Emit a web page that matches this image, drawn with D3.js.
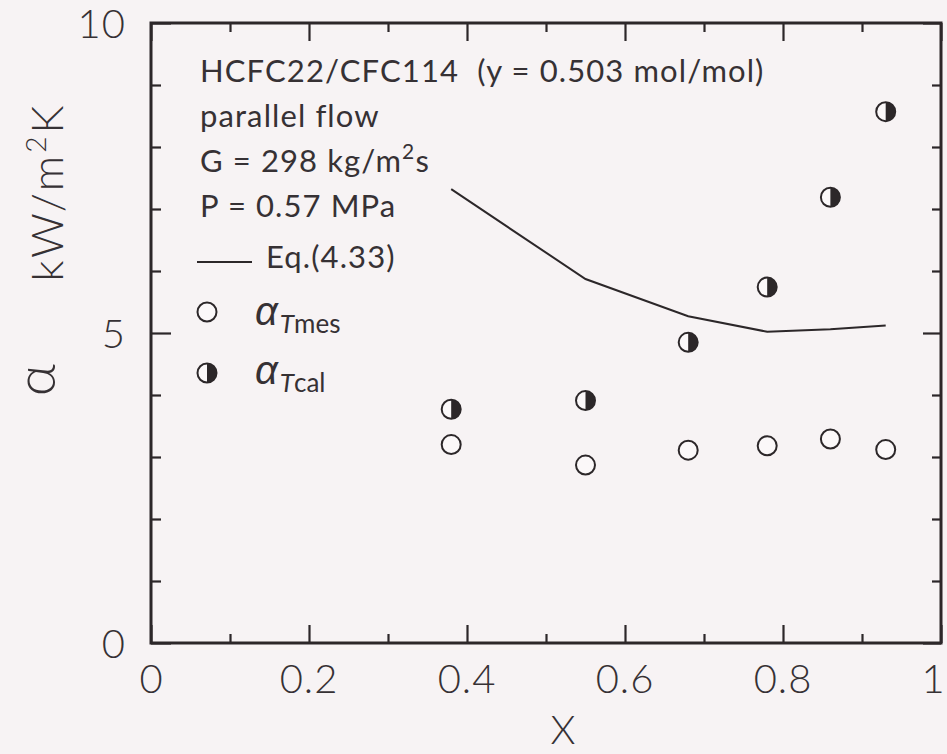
<!DOCTYPE html>
<html>
<head>
<meta charset="utf-8">
<script src="https://cdn.jsdelivr.net/npm/d3@7/dist/d3.min.js"></script>
<style>
  body { margin: 0; background: #f7f3f4; }
  svg { display: block; }
  text { fill: #363134; font-family: Lato, "Open Sans", sans-serif; white-space: pre; }
  .greek { font-family: "Liberation Sans", "DejaVu Sans", sans-serif; }
</style>
</head>
<body>
<div id="chart"></div>
<script>
// quality X of each measuring point
const xQuality = [0.38, 0.55, 0.68, 0.78, 0.86, 0.93];
// measured heat transfer coefficient, kW/m2K
const alphaMes = [3.20, 2.87, 3.11, 3.18, 3.29, 3.12];
// calculated heat transfer coefficient
const alphaCal = [3.77, 3.91, 4.85, 5.74, 7.19, 8.57];
// Eq.(4.33) curve
const eqAlpha = [7.32, 5.87, 5.27, 5.02, 5.06, 5.12];

const xMajor = [0, 0.2, 0.4, 0.6, 0.8, 1];
const xMinor = [0.1, 0.3, 0.5, 0.7, 0.9];
const xTickLabels = ["0", "0.2", "0.4", "0.6", "0.8", "1"];
const yMajor = [0, 5, 10];
const yMinor = [1, 2, 3, 4, 6, 7, 8, 9];
const yTickLabels = ["0", "5", "10"];

const W = 947, H = 754;
const ink = "#2c2729";

const svg = d3.select("#chart")
  .append("svg")
    .attr("width", W)
    .attr("height", H);

svg.append("rect").attr("width", W).attr("height", H).attr("fill", "#f7f3f4");

const x = d3.scaleLinear().domain([0, 1]).range([151, 941]);
const y = d3.scaleLinear().domain([0, 10]).range([643, 23]);

// inward ticks on all four sides
function ticks(axis, values, len, transform) {
  svg.append("g")
    .attr("transform", transform)
    .call(axis.tickValues(values).tickSize(-len).tickFormat(""))
    .call(g => g.select(".domain").remove())
    .call(g => g.selectAll("line").attr("stroke", ink).attr("stroke-width", 2.2));
}
ticks(d3.axisBottom(x), xMajor, 18, `translate(0,${y(0)})`);
ticks(d3.axisBottom(x), xMinor, 9, `translate(0,${y(0)})`);
ticks(d3.axisTop(x), xMajor, 18, `translate(0,${y(10)})`);
ticks(d3.axisTop(x), xMinor, 9, `translate(0,${y(10)})`);
ticks(d3.axisLeft(y), yMajor, 20, `translate(${x(0)},0)`);
ticks(d3.axisLeft(y), yMinor, 10, `translate(${x(0)},0)`);
ticks(d3.axisRight(y), yMajor, 18, `translate(${x(1)},0)`);
ticks(d3.axisRight(y), yMinor, 9, `translate(${x(1)},0)`);

// frame
svg.append("rect")
  .attr("x", x(0)).attr("y", y(10))
  .attr("width", x(1) - x(0)).attr("height", y(0) - y(10))
  .attr("fill", "none").attr("stroke", ink).attr("stroke-width", 3);

// tick labels (the last one is kept just inside the page edge)
svg.selectAll(".xl")
  .data(xMajor)
  .join("text")
    .attr("x", d => Math.min(x(d), W - 14))
    .attr("y", 693)
    .attr("text-anchor", "middle")
    .attr("font-size", 40)
    .attr("font-weight", 300)
    .attr("letter-spacing", (d, i) => xTickLabels[i].length > 1 ? 1 : 0)
    .text((d, i) => xTickLabels[i]);

svg.selectAll(".yl")
  .data(yMajor)
  .join("text")
    .attr("x", 126)
    .attr("y", d => y(d) + 15)
    .attr("text-anchor", "end")
    .attr("font-size", 40)
    .attr("font-weight", 300)
    .attr("letter-spacing", 1)
    .text((d, i) => yTickLabels[i]);

// axis titles
svg.append("text")
  .attr("x", 563).attr("y", 744)
  .attr("text-anchor", "middle")
  .attr("font-size", 40).attr("font-weight", 300)
  .text("X");

const yl = svg.append("text")
  .attr("transform", "translate(63,192) rotate(-90)")
  .attr("text-anchor", "middle")
  .attr("font-size", 44).attr("font-weight", 300)
  .attr("letter-spacing", 3);
yl.append("tspan").text("kW/m");
yl.append("tspan").attr("font-size", 28).attr("dy", -17).text("2");
yl.append("tspan").attr("dy", 17).text("K");

svg.append("text")
  .attr("transform", "translate(55,380) rotate(-90)")
  .attr("text-anchor", "middle")
  .attr("font-size", 56).attr("font-weight", 300)
  .text("α");

// conditions
const notes = ["HCFC22/CFC114  (y = 0.503 mol/mol)", "parallel flow", null, "P = 0.57 MPa"];
notes.forEach((t, i) => {
  if (!t) return;
  svg.append("text")
    .attr("x", 200).attr("y", 82 + i * 45)
    .attr("font-size", 31)
    .attr("letter-spacing", 1.1)
    .text(t);
});
const gLine = svg.append("text").attr("x", 200).attr("y", 172)
  .attr("font-size", 31).attr("letter-spacing", 1.1);
gLine.append("tspan").text("G = 298 kg/m");
gLine.append("tspan").attr("font-size", 21).attr("dy", -13).text("2");
gLine.append("tspan").attr("dy", 13).text("s");

// Eq.(4.33) line
const line = d3.line()
  .x((d, i) => x(xQuality[i]))
  .y(d => y(d));
svg.append("path")
  .datum(eqAlpha)
  .attr("d", line)
  .attr("fill", "none")
  .attr("stroke", ink)
  .attr("stroke-width", 2);

// markers
const r = 9.5;
function openCircle(g) {
  g.append("circle").attr("r", r).attr("fill", "#fbf8f9").attr("stroke", ink).attr("stroke-width", 2);
}
function halfCircle(g) {
  g.append("circle").attr("r", r).attr("fill", "#fbf8f9").attr("stroke", ink).attr("stroke-width", 2);
  g.append("path").attr("d", `M0,${-r}A${r},${r} 0 0 1 0,${r}Z`).attr("fill", ink);
}

svg.selectAll(".mes")
  .data(alphaMes)
  .join("g")
    .attr("transform", (d, i) => `translate(${x(xQuality[i])},${y(d)})`)
    .each(function() { openCircle(d3.select(this)); });

svg.selectAll(".cal")
  .data(alphaCal)
  .join("g")
    .attr("transform", (d, i) => `translate(${x(xQuality[i])},${y(d)})`)
    .each(function() { halfCircle(d3.select(this)); });

// legend
svg.append("line")
  .attr("x1", 197).attr("x2", 252).attr("y1", 262).attr("y2", 262)
  .attr("stroke", ink).attr("stroke-width", 2);
svg.append("text").attr("x", 266).attr("y", 268)
  .attr("font-size", 31).attr("letter-spacing", 1.1).text("Eq.(4.33)");

openCircle(svg.append("g").attr("transform", "translate(207,312)"));
halfCircle(svg.append("g").attr("transform", "translate(207,373)"));

[["mes", 325], ["cal", 384]].forEach(([sub, base]) => {
  const t = svg.append("text").attr("x", 255).attr("y", base);
  t.append("tspan").attr("class", "greek").attr("font-size", 40).attr("font-style", "italic").text("α");
  t.append("tspan").attr("font-size", 26).attr("font-style", "italic").attr("dy", 8).attr("dx", 2).text("T");
  t.append("tspan").attr("font-size", 26).text(sub);
});
</script>
</body>
</html>
